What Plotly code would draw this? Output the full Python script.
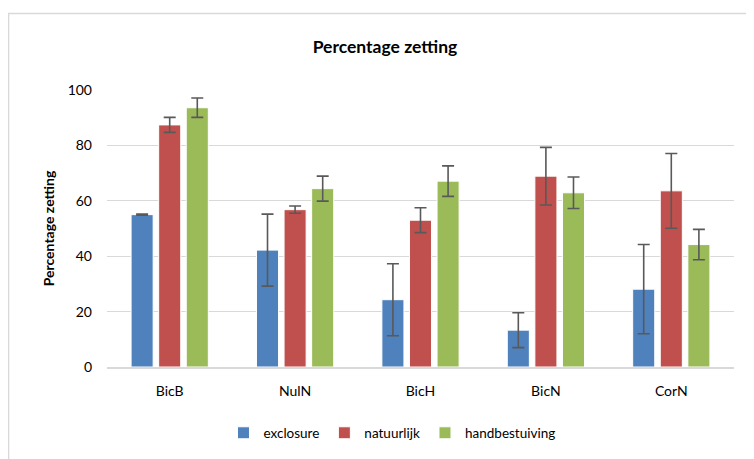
import plotly.graph_objects as go

categories = ["BicB", "NulN", "BicH", "BicN", "CorN"]
exclosure = [55.0, 42.2, 24.3, 13.3, 28.1]
exclosure_err = [0.2, 13.0, 13.0, 6.3, 16.1]
natuurlijk = [87.4, 56.8, 53.0, 68.9, 63.6]
natuurlijk_err = [2.7, 1.3, 4.5, 10.4, 13.5]
handbestuiving = [93.6, 64.4, 67.1, 62.9, 44.2]
handbestuiving_err = [3.5, 4.5, 5.5, 5.7, 5.5]
y_ticks = [0, 20, 40, 60, 80, 100]

FONT = "Lato"
series = [
    ("exclosure", exclosure, exclosure_err, "#4F81BD"),
    ("natuurlijk", natuurlijk, natuurlijk_err, "#C0504D"),
    ("handbestuiving", handbestuiving, handbestuiving_err, "#9BBB59"),
]

fig = go.Figure()
for name, vals, errs, col in series:
    fig.add_trace(go.Bar(
        x=categories, y=vals, name=name,
        marker=dict(color=col, line=dict(color="white", width=1)),
        error_y=dict(type="data", array=errs, visible=True,
                     color="#595959", thickness=1.6, width=6),
    ))

fig.update_layout(
    width=754, height=459,
    margin=dict(l=99, r=28, t=81.5, b=99.5, autoexpand=False),
    paper_bgcolor="white", plot_bgcolor="white",
    barmode="group", bargap=0.34, bargroupgap=0.2,
    font=dict(family=FONT, size=13, color="#000000"),
    title=dict(text="<b>Percentage zetting</b>", x=0.5, xref="container",
               xanchor="center", y=1 - 38.5 / 459, yanchor="middle",
               font=dict(family=FONT, size=17.5, color="#000000")),
    showlegend=True,
    legend=dict(orientation="h", x=0.4545, xanchor="center",
                yref="container", y=1 - 425 / 459, yanchor="middle",
                font=dict(family=FONT, size=13.5, color="#000000"),
                itemwidth=30, traceorder="normal"),
    xaxis=dict(showgrid=False, ticks="", showline=True, automargin=False,
               linecolor="#D9D9D9", linewidth=1.5,
               tickfont=dict(family=FONT, size=14), ticklabelstandoff=10),
    yaxis=dict(range=[0, 100], tickvals=y_ticks, showgrid=True, automargin=False,
               gridcolor="#D9D9D9", gridwidth=1.3, zeroline=False,
               showline=False, ticks="", ticklabelstandoff=14,
               tickfont=dict(family=FONT, size=14),
               title=dict(text="<b>Percentage zetting</b>",
                          font=dict(family=FONT, size=14), standoff=9)),
    shapes=[dict(type="rect", xref="paper", yref="paper",
                 x0=-0.157, x1=1.1, y0=-0.45, y1=1.276,
                 line=dict(color="#D9D9D9", width=1.5), layer="below")],
)

fig.write_html("out.html")
